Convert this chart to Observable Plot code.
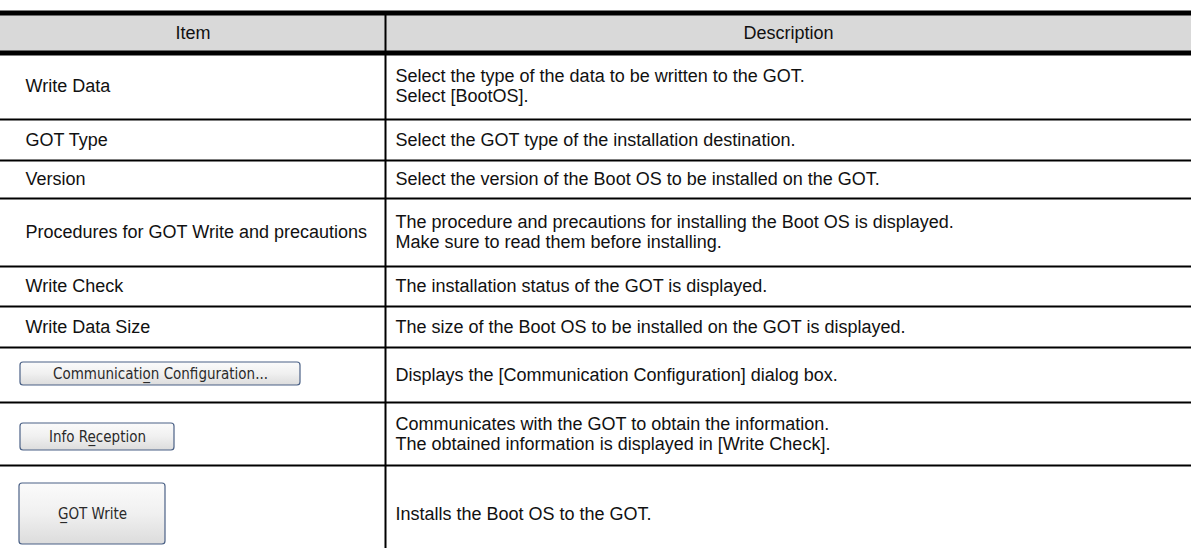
<!DOCTYPE html>
<html>
<head>
<meta charset="utf-8">
<script src="https://cdn.jsdelivr.net/npm/d3@7"></script>
<script src="https://cdn.jsdelivr.net/npm/@observablehq/plot@0.6"></script>
<style>
  html, body { margin: 0; padding: 0; background: #fff; }
  #chart svg { display: block; }
</style>
</head>
<body>
<div id="chart"></div>
<script>
// ---- Table content ----
const headers = ["Item", "Description"];
const items = [
  "Write Data",
  "GOT Type",
  "Version",
  "Procedures for GOT Write and precautions",
  "Write Check",
  "Write Data Size",
  "",
  "",
  ""
];
// Button captions (combining low line marks the access key)
const buttonLabels = [
  "Communicatio\u0332n Configuration...",
  "Info Re\u0332ception",
  "G\u0332OT Write"
];
const buttonRows = [6, 7, 8];
const descriptions = [
  ["Select the type of the data to be written to the GOT.", "Select [BootOS]."],
  ["Select the GOT type of the installation destination."],
  ["Select the version of the Boot OS to be installed on the GOT."],
  ["The procedure and precautions for installing the Boot OS is displayed.", "Make sure to read them before installing."],
  ["The installation status of the GOT is displayed."],
  ["The size of the Boot OS to be installed on the GOT is displayed."],
  ["Displays the [Communication Configuration] dialog box."],
  ["Communicates with the GOT to obtain the information.", "The obtained information is displayed in [Write Check]."],
  ["Installs the Boot OS to the GOT."]
];

// ---- Layout (pixels) ----
const W = 1191, H = 548;
const tableTop = 12.5, headerBottom = 52.5;
const rowEdges = [52.5, 119, 160, 198, 266, 306, 347, 402, 465, 562];
const colSplit = 385;
const itemX = 25, descX = 395;
const lineGap = 20;
const fontSize = 18;
const buttonBoxes = [
  {x1: 20, x2: 300, y1: 362, y2: 385},
  {x1: 20, x2: 174, y1: 423, y2: 450},
  {x1: 19, x2: 165, y1: 483, y2: 544}
];

// ---- Build derived tables ----
const rowMid = i => (rowEdges[i] + rowEdges[i + 1]) / 2;
const itemText = items.map((t, i) => ({text: t, x: itemX, y: rowMid(i)})).filter(d => d.text);
const descText = descriptions.flatMap((lines, i) =>
  lines.map((t, j) => ({text: t, x: descX, y: rowMid(i) + (j - (lines.length - 1) / 2) * lineGap}))
);
const headerText = [
  {text: headers[0], x: colSplit / 2, y: (tableTop + headerBottom) / 2},
  {text: headers[1], x: (colSplit + W) / 2, y: (tableTop + headerBottom) / 2}
];
const buttons = buttonLabels.map((label, k) => {
  const b = buttonBoxes[k];
  return {label, ...b, cx: (b.x1 + b.x2) / 2, cy: (b.y1 + b.y2) / 2};
});
const thinLines = rowEdges.slice(1, -1);

const defsMark = () => {
  const ns = "http://www.w3.org/2000/svg";
  const defs = document.createElementNS(ns, "defs");
  defs.innerHTML = `<linearGradient id="btnGrad" x1="0" y1="0" x2="0" y2="1">
      <stop offset="0" stop-color="#fbfbfb"/>
      <stop offset="0.5" stop-color="#f0f0f0"/>
      <stop offset="1" stop-color="#dcdcdc"/>
    </linearGradient>`;
  return defs;
};

const font = "Liberation Sans, Arial, sans-serif";
const chart = Plot.plot({
  width: W,
  height: H,
  margin: 0,
  x: {domain: [0, W], range: [0, W], axis: null},
  y: {domain: [0, H], range: [0, H], axis: null},
  style: {background: "#fff"},
  marks: [
    defsMark,
    Plot.rect([{x1: 0, x2: W, y1: tableTop, y2: headerBottom}], {x1: "x1", x2: "x2", y1: "y1", y2: "y2", fill: "#d9d9d9"}),
    Plot.ruleY(thinLines, {y: d => d, stroke: "#000", strokeWidth: 2}),
    Plot.ruleY([tableTop, headerBottom], {y: d => d, stroke: "#000", strokeWidth: 5}),
    Plot.ruleX([{x: colSplit, y1: tableTop, y2: H}], {x: "x", y1: "y1", y2: "y2", stroke: "#000", strokeWidth: 2}),
    Plot.text(headerText, {x: "x", y: "y", text: "text", textAnchor: "middle", fontSize, fontFamily: font, fill: "#111"}),
    Plot.text(itemText, {x: "x", y: "y", text: "text", textAnchor: "start", fontSize, fontFamily: font, fill: "#111"}),
    Plot.text(descText, {x: "x", y: "y", text: "text", textAnchor: "start", fontSize, fontFamily: font, fill: "#111"}),
    Plot.rect(buttons, {x1: "x1", x2: "x2", y1: "y1", y2: "y2", rx: 3, fill: "url(#btnGrad)", stroke: "#4b6186", strokeWidth: 1.2}),
    Plot.text(buttons, {x: "cx", y: "cy", text: "label", textAnchor: "middle", fontSize: 15, fontFamily: "DejaVu Sans Condensed, DejaVu Sans, sans-serif", fill: "#2a2a2a"})
  ]
});
document.getElementById("chart").appendChild(chart);
</script>
</body>
</html>
